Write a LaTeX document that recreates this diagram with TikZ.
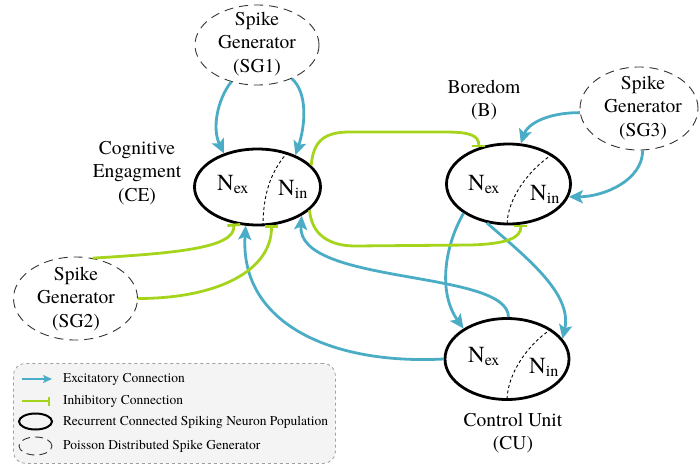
\documentclass[tikz,border=0pt]{standalone}
\usepackage{fontspec}
\setmainfont{texgyretermes-regular.otf}
\usetikzlibrary{arrows.meta,shapes.geometric,calc}
\definecolor{exc}{RGB}{75,172,198}
\definecolor{inh}{RGB}{165,212,28}
\begin{document}
\begin{tikzpicture}[x=1pt,y=-1pt,
  pop/.style={ellipse, draw=black, line width=2.8pt, inner sep=0pt},
  gen/.style={ellipse, draw=black!80, line width=0.9pt, dash pattern=on 9pt off 6pt, inner sep=0pt},
  lbl/.style={align=center, font=\fontsize{19.5}{23.5}\selectfont, inner sep=0pt},
  nlab/.style={font=\fontsize{23}{26}\selectfont, inner sep=0pt, anchor=base west},
  divline/.style={black, line width=0.9pt, dash pattern=on 3pt off 2.5pt},
  excl/.style={exc, line width=2.8pt, -{Stealth[length=14pt,width=13pt,inset=3pt]}},
  inhl/.style={inh, line width=2.8pt, -{Bar[width=13pt,line width=2.8pt]}},
  legtext/.style={anchor=west, inner sep=0pt, font=\fontsize{13.5}{16}\selectfont},
]
\useasboundingbox (0,0) rectangle (700,465);

% generators
\node[gen, minimum width=124pt, minimum height=80pt] (sg1) at (257,45) {};
\node[gen, minimum width=124pt, minimum height=83pt] (sg2) at (75.5,298.5) {};
\node[gen, minimum width=118pt, minimum height=83pt] (sg3) at (639,108.5) {};
\node[lbl] (sg1t) at (257,44) {Spike\\Generator\\(SG1)};
\node[lbl] (sg2t) at (76,299) {Spike\\Generator\\(SG2)};
\node[lbl] (sg3t) at (643,108) {Spike\\Generator\\(SG3)};

% populations
\node[pop, minimum width=126pt, minimum height=76pt] (ce) at (257.5,187) {};
\node[pop, minimum width=124pt, minimum height=80pt] (b) at (508.5,184) {};
\node[pop, minimum width=124pt, minimum height=81pt] (cu) at (507,359) {};

\draw[divline] (ce.49) .. controls +(-18,20) and +(0,-30) .. (ce.-82);
\draw[divline] (b.34) .. controls +(-22,14) and +(0,-28) .. (b.-92);
\draw[divline] (cu.34) .. controls +(-22,14) and +(0,-28) .. (cu.-90);

\node[nlab] (ceex) at (217,190) {N\textsubscript{ex}};
\node[nlab] (cein) at (278,195) {N\textsubscript{in}};
\node[nlab] (bex) at (468,190) {N\textsubscript{ex}};
\node[nlab] (bin) at (530,200) {N\textsubscript{in}};
\node[nlab] (cuex) at (468,362) {N\textsubscript{ex}};
\node[nlab] (cuin) at (529,373) {N\textsubscript{in}};

% labels
\node[lbl] (celbl) at (137,173) {Cognitive\\Engagment\\(CE)};
\node[lbl] (blbl) at (484,100) {Boredom\\(B)};
\node[lbl] (culbl) at (513,433) {Control Unit\\(CU)};

% excitatory connections
\draw[excl] (sg1.-125) .. controls +(-14,18) and +(-12,-25) .. (ce.135);
\draw[excl] (sg1.-44) .. controls +(16,14) and +(10,-30) .. (ce.40);
\draw[excl] (sg3.-176) .. controls +(-35,0) and +(6,-18) .. (b.73);
\draw[excl] (sg3.-85) .. controls +(0,30) and +(35,0) .. (b.-12);
\draw[excl] (cu.180) .. controls +(-115,6) and +(-6,96) .. (ce.-107);
\draw[excl] (cu.88) .. controls +(0,-48) and +(-5,70) .. (ce.-33);
\draw[excl] (b.-147) .. controls +(-20,35) and +(-25,-35) .. (cu.145);
\draw[excl] (b.-119) .. controls +(40,35) and +(10,-45) .. (cu.20);

% inhibitory connections
\draw[inhl] (ce.22) .. controls +(2,-25) and +(-25,0) .. (350,132) -- (445,132) .. controls +(25,0) and +(0,-12) .. (b.129);
\draw[inhl] (ce.-24) .. controls +(2,25) and +(-25,0) .. (355,246) -- (470,245) .. controls +(35,-1) and +(0,14) .. (b.-73);
\draw[inhl] (sg2.67) .. controls +(80,-5) and +(2,25) .. (ce.-123);
\draw[inhl] (sg2.0) .. controls +(80,0) and +(0,45) .. (ce.-70);

% legend
\node[draw=gray!75, dashed, line width=0.8pt, rounded corners=12pt, fill=gray!9,
      minimum width=322pt, minimum height=100pt, anchor=north west, inner sep=0pt] (legend) at (13,363) {};
\coordinate (la1) at (22,379);
\coordinate (la2) at (52,379);
\coordinate (lb1) at (22,401);
\coordinate (lb2) at (50,401);
\draw[exc, line width=2pt, -{Stealth[length=9pt,width=8pt,inset=2pt]}] (la1) -- (la2);
\draw[inh, line width=2pt, -{Bar[width=9pt,line width=2pt]}] (lb1) -- (lb2);
\node[pop, line width=2pt, minimum width=33pt, minimum height=16pt] (lpop) at (35.5,421.5) {};
\node[gen, minimum width=33pt, minimum height=18pt, dash pattern=on 8pt off 5pt] (lgen) at (35.5,446) {};
\node[legtext] (lt1) at (63,379) {Excitatory Connection};
\node[legtext] (lt2) at (63,401) {Inhibitory Connection};
\node[legtext] (lt3) at (63,422) {Recurrent Connected Spiking Neuron Population};
\node[legtext] (lt4) at (63,446) {Poisson Distributed Spike Generator};
\end{tikzpicture}
\end{document}
